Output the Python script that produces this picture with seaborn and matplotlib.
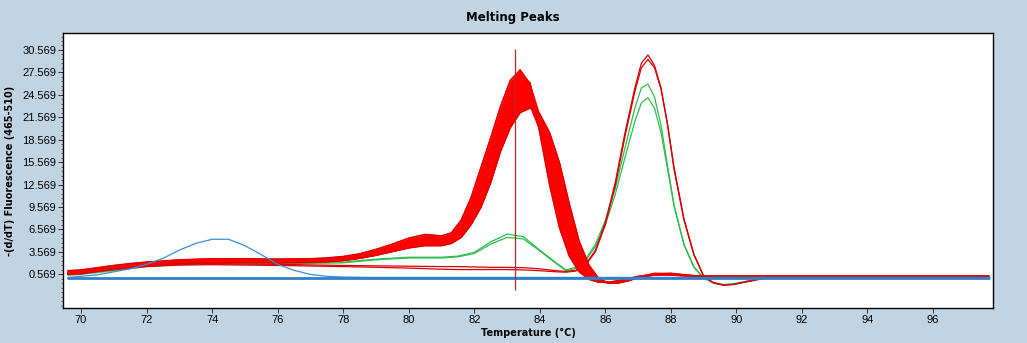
import numpy as np
import pandas as pd
import matplotlib
matplotlib.use("Agg")
import matplotlib.pyplot as plt
from matplotlib.ticker import FixedLocator
import seaborn as sns

# ---------------- data ----------------
# shared temperature grid of the main (83.5 C) melting-peak band
temp_band = [69.6, 70.0, 70.5, 71.0, 71.5, 72.0, 73.0, 74.0, 75.0, 76.0, 77.0, 77.5,
             78.0, 78.5, 79.0, 79.5, 80.0, 80.5, 81.0, 81.3, 81.6, 81.9, 82.2, 82.5,
             82.8, 83.1, 83.4, 83.7, 84.0, 84.3, 84.6, 84.9, 85.2, 85.5, 85.8, 86.1,
             86.4, 86.7, 87.0, 87.5, 88.0, 88.5, 89.0, 90.0, 92.0, 97.7]

band_1 = [1.05, 1.15, 1.45, 1.75, 2.0, 2.2, 2.5, 2.65, 2.65, 2.6, 2.65, 2.75,
          2.95, 3.3, 3.9, 4.6, 5.4, 5.9, 5.7, 6.1, 7.8, 10.8, 14.8, 18.8,
          23.0, 26.5, 27.9, 26.0, 19.5, 12.5, 6.8, 3.0, 0.9, -0.1, -0.5, -0.5,
          -0.3, 0.0, 0.2, 0.45, 0.45, 0.35, 0.3, 0.3, 0.3, 0.3]
band_2 = [0.95, 1.05, 1.35, 1.65, 1.9, 2.1, 2.4, 2.55, 2.55, 2.5, 2.55, 2.65,
          2.85, 3.15, 3.7, 4.3, 4.9, 5.2, 5.2, 5.8, 7.4, 10.2, 14.0, 17.9,
          22.0, 25.5, 27.2, 26.2, 20.2, 13.8, 8.0, 3.8, 1.3, 0.1, -0.4, -0.5,
          -0.3, 0.0, 0.3, 0.55, 0.5, 0.35, 0.3, 0.3, 0.3, 0.3]
band_3 = [0.85, 0.95, 1.25, 1.55, 1.8, 2.0, 2.3, 2.45, 2.45, 2.4, 2.45, 2.55,
          2.75, 3.05, 3.55, 4.1, 4.7, 5.0, 5.0, 5.5, 7.0, 9.6, 13.1, 16.8,
          20.9, 24.2, 26.1, 25.6, 21.0, 15.2, 9.5, 5.0, 2.0, 0.4, -0.35, -0.55,
          -0.4, -0.1, 0.25, 0.6, 0.55, 0.4, 0.3, 0.3, 0.3, 0.3]
band_4 = [0.75, 0.85, 1.15, 1.45, 1.7, 1.9, 2.2, 2.35, 2.35, 2.3, 2.35, 2.45,
          2.65, 2.95, 3.4, 3.95, 4.5, 4.8, 4.9, 5.3, 6.6, 9.0, 12.2, 15.8,
          19.8, 23.0, 24.9, 24.8, 21.5, 16.5, 11.0, 6.2, 2.8, 0.7, -0.3, -0.6,
          -0.5, -0.2, 0.2, 0.65, 0.6, 0.4, 0.3, 0.3, 0.3, 0.3]
band_5 = [0.65, 0.75, 1.05, 1.35, 1.6, 1.8, 2.1, 2.25, 2.25, 2.2, 2.25, 2.35,
          2.5, 2.8, 3.25, 3.8, 4.3, 4.6, 4.6, 5.0, 6.0, 8.0, 10.8, 14.2,
          18.3, 21.5, 23.4, 23.8, 21.9, 18.0, 13.2, 8.2, 4.0, 1.3, -0.1, -0.6,
          -0.55, -0.25, 0.15, 0.7, 0.65, 0.45, 0.3, 0.3, 0.3, 0.3]
band_6 = [0.55, 0.65, 0.95, 1.25, 1.5, 1.7, 2.0, 2.15, 2.15, 2.1, 2.15, 2.25,
          2.4, 2.7, 3.1, 3.6, 4.1, 4.4, 4.4, 4.7, 5.5, 7.2, 9.5, 12.8,
          17.0, 20.2, 22.2, 22.8, 22.0, 19.5, 15.5, 10.0, 5.0, 1.8, 0.0, -0.6,
          -0.6, -0.3, 0.1, 0.6, 0.7, 0.45, 0.3, 0.3, 0.3, 0.3]

# temperature grid of the 87 C product curves
temp_peak = [69.6, 70.0, 71.0, 72.0, 73.0, 74.0, 76.0, 78.0, 79.0, 80.0, 81.0, 81.5,
             82.0, 82.5, 83.0, 83.5, 84.0, 84.5, 84.8, 85.1, 85.4, 85.7, 86.0, 86.3,
             86.6, 86.9, 87.1, 87.3, 87.5, 87.7, 87.9, 88.1, 88.4, 88.7, 89.0, 89.3,
             89.6, 89.9, 90.2, 90.6, 91.0, 92.0, 97.7]

red_peak_a = [0.7, 0.8, 1.3, 1.7, 1.9, 2.0, 1.9, 1.75, 1.7, 1.65, 1.6, 1.6,
              1.55, 1.5, 1.5, 1.45, 1.3, 1.05, 0.95, 1.1, 1.9, 3.8, 7.5, 12.8,
              19.5, 25.5, 28.8, 29.9, 28.5, 25.5, 20.5, 14.5, 7.8, 3.2, 0.3, -0.6,
              -0.9, -0.8, -0.55, -0.2, 0.15, 0.25, 0.25]
red_peak_b = [0.6, 0.7, 1.2, 1.6, 1.8, 1.85, 1.75, 1.6, 1.5, 1.4, 1.25, 1.2,
              1.2, 1.2, 1.2, 1.15, 1.05, 0.9, 0.85, 1.0, 1.8, 3.6, 7.2, 12.4,
              19.0, 25.0, 28.2, 29.3, 28.2, 25.3, 20.6, 14.8, 8.0, 3.3, 0.35, -0.55,
              -0.85, -0.8, -0.5, -0.15, 0.15, 0.25, 0.25]
green_a = [0.55, 0.65, 1.15, 1.7, 1.95, 2.05, 2.05, 2.2, 2.6, 2.85, 2.85, 3.0,
           3.5, 4.9, 5.95, 5.6, 3.8, 2.1, 1.15, 1.5, 2.6, 4.6, 7.8, 12.0,
           17.5, 22.8, 25.5, 26.0, 24.3, 20.5, 15.0, 9.8, 4.6, 1.6, 0.1, -0.6,
           -0.85, -0.75, -0.5, -0.1, 0.2, 0.3, 0.3]
green_b = [0.45, 0.55, 1.05, 1.6, 1.85, 1.95, 1.95, 2.1, 2.5, 2.75, 2.75, 2.9,
           3.35, 4.6, 5.5, 5.3, 3.7, 2.0, 1.05, 1.35, 2.4, 4.3, 7.2, 11.2,
           16.2, 21.0, 23.5, 24.2, 22.8, 19.5, 14.6, 9.6, 4.5, 1.5, 0.05, -0.55,
           -0.8, -0.7, -0.45, -0.1, 0.2, 0.3, 0.3]

# blue curves
temp_blue = [69.6, 70.0, 70.5, 71.0, 71.5, 72.0, 72.5, 73.0, 73.5, 74.0, 74.5, 75.0,
             75.5, 76.0, 76.5, 77.0, 77.5, 78.0, 79.0, 97.7]
blue_bump = [0.15, 0.3, 0.5, 0.9, 1.3, 1.9, 2.7, 3.8, 4.7, 5.25, 5.25, 4.4,
             3.2, 1.9, 1.1, 0.55, 0.3, 0.2, 0.15, 0.15]
temp_flat = [69.6, 97.7]
blue_flat = [0.1, 0.1]

cursor_temp = 83.25
cursor_span = [-1.5, 30.7]

y_ticks = [0.569, 3.569, 6.569, 9.569, 12.569, 15.569, 18.569, 21.569, 24.569, 27.569, 30.569]
x_ticks = [70, 72, 74, 76, 78, 80, 82, 84, 86, 88, 90, 92, 94, 96]

# ---------------- plot ----------------
sns.set_theme(style="white")
plt.rcParams["font.family"] = ["DejaVu Sans"]
plt.rcParams["text.color"] = "black"
plt.rcParams["axes.labelcolor"] = "black"
plt.rcParams["xtick.color"] = "black"
plt.rcParams["ytick.color"] = "black"

bg = "#c1d4e4"
fig = plt.figure(figsize=(10.27, 3.43), dpi=100, facecolor=bg)
ax = fig.add_axes([63 / 1027, 35 / 343, 930 / 1027, 275 / 343])
ax.set_facecolor("white")

RED = "#ff0000"
DRED = "#d80000"
GREEN = "#2ebd4f"
BLUE = "#2f7fc9"
BLUE2 = "#3a8ed8"

def draw(x, y, color, lw, z):
    df = pd.DataFrame({"T": x, "v": y})
    sns.lineplot(data=df, x="T", y="v", color=color, linewidth=lw, ax=ax,
                 estimator=None, sort=False, zorder=z)

for y in (green_a, green_b):
    draw(temp_peak, y, GREEN, 0.9, 2)
for y in (red_peak_a, red_peak_b):
    draw(temp_peak, y, DRED, 0.9, 3)

bands = np.array([band_1, band_2, band_3, band_4, band_5, band_6])
ax.fill_between(temp_band, bands.min(axis=0), bands.max(axis=0), color=RED,
                linewidth=0, zorder=4)
for y in bands:
    draw(temp_band, y, RED, 1.1, 4)
draw(temp_band, band_6, DRED, 0.7, 4)
draw(temp_band, band_1, DRED, 0.7, 4)

draw(temp_blue, blue_bump, BLUE2, 0.9, 5)
draw(temp_flat, blue_flat, BLUE, 2.0, 6)

ax.vlines(cursor_temp, cursor_span[0], cursor_span[1], color="#b02828",
          linewidth=0.9, zorder=7)

ax.set_xlim(69.45, 97.83)
ax.set_ylim(-3.94, 32.84)
ax.xaxis.set_major_locator(FixedLocator(x_ticks))
ax.yaxis.set_major_locator(FixedLocator(y_ticks))
ax.yaxis.set_minor_locator(FixedLocator([0.569 + 0.6 * k for k in range(-7, 54)]))
ax.set_xticklabels([str(t) for t in x_ticks])
ax.set_yticklabels([f"{t:.3f}" for t in y_ticks])

for sp in ax.spines.values():
    sp.set_visible(True)
    sp.set_color("black")
    sp.set_linewidth(1.0)

ax.tick_params(axis="both", which="major", direction="out", length=3.5, width=0.7,
               color="#333333", labelsize=8, pad=1.5, labelcolor="black")
ax.tick_params(axis="y", which="minor", direction="out", length=1.8, width=0.6,
               color="#555555", left=True)
ax.tick_params(axis="x", which="major", bottom=True)
ax.tick_params(axis="y", which="major", left=True)
for lab in ax.get_xticklabels() + ax.get_yticklabels():
    lab.set_fontfamily(["Liberation Sans", "DejaVu Sans"])

ax.set_xlabel("Temperature (°C)", fontsize=7, fontweight="bold", labelpad=2,
              color="black")
ax.set_ylabel("-(d/dT) Fluorescence (465-510)", fontsize=7, fontweight="bold",
              labelpad=5, color="black")
fig.text(0.4995, 1 - 18 / 343, "Melting Peaks", ha="center", va="center",
         fontsize=8.5, fontweight="bold", color="black")

fig.savefig("out.png", dpi=100, facecolor=bg)
